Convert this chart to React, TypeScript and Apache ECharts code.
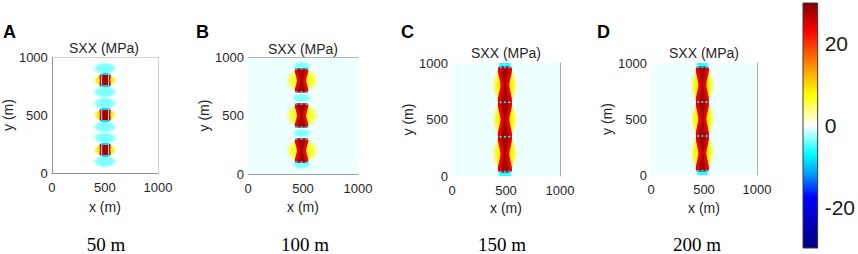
import React, { useEffect, useRef } from 'react';
import * as echarts from 'echarts';

// ---------------- data ----------------
const panelLetters = ['A', 'B', 'C', 'D'];
const panelCaptions = ['50 m', '100 m', '150 m', '200 m'];
const panelTitle = 'SXX (MPa)';
const xAxisName = 'x (m)';
const yAxisName = 'y (m)';
const axisMin = 0;
const axisMax = 1000;
const axisStep = 500;
const colorbarRange = [-30, 30];
const colorbarTicks = [-20, 0, 20];
// colormap: value -> colour
const colormapValues = [-30, -17.5, -12, -7, 0, 7.5, 14, 23, 30];
const colormapColors = ['#00007f', '#0000ff', '#0099ff', '#00ffff', '#ffffff', '#ffff00', '#ff9900', '#ff0000', '#800000'];
// background stress of each panel (MPa)
const backgroundValues = [0, -0.5, -0.5, -0.5];

// halos / soft zones: [cx, cy, rx, ry, SXX]
const halosA = [
  [500, 800, 112, 56, 9], [500, 500, 112, 56, 9], [500, 200, 112, 56, 9],
  [500, 902, 118, 54, -3.5], [500, 698, 118, 54, -3.5],
  [500, 602, 118, 54, -3.5], [500, 398, 118, 54, -3.5],
  [500, 302, 118, 54, -3.5], [500, 98, 118, 54, -3.5],
];
const halosB = [
  [492, 800, 150, 110, 6.5], [492, 500, 150, 110, 6.5], [492, 200, 150, 110, 6.5],
  [488, 918, 88, 44, -3.5], [488, 650, 88, 40, -3.5],
  [488, 350, 88, 40, -3.5], [488, 82, 88, 44, -3.5],
];
const halosC = [
  [490, 200, 118, 178, 8], [490, 500, 118, 178, 8], [490, 800, 118, 178, 8],
  [490, 988, 70, 38, -6], [490, 12, 70, 38, -6],
];
const halosD = [
  [485, 200, 115, 178, 8], [485, 500, 115, 178, 8], [485, 800, 115, 178, 8],
  [485, 988, 66, 38, -6], [485, 12, 66, 38, -6],
];

// stressed bodies (hourglass): [cx, y0, y1, widthAtEnds, widthAtMiddle, SXX]
const bodiesA = [
  [502, 752, 848, 98, 98, 24], [502, 452, 548, 98, 98, 24], [502, 152, 248, 98, 98, 24],
];
const bodiesB = [
  [487, 703, 895, 118, 84, 24], [487, 403, 597, 118, 84, 24], [487, 103, 297, 118, 84, 24],
];
const bodiesC = [
  [490, 40, 348, 125, 82, 24], [490, 348, 652, 125, 82, 24], [490, 652, 960, 125, 82, 24],
];
const bodiesD = [
  [485, 40, 348, 118, 76, 24], [485, 348, 652, 118, 76, 24], [485, 652, 960, 118, 76, 24],
];

// inner cores and fracture lines: [cx, y0, y1, widthAtEnds, widthAtMiddle, SXX]
const coresA = [
  [502, 758, 842, 46, 46, 28], [502, 458, 542, 46, 46, 28], [502, 158, 242, 46, 46, 28],
  [470, 752, 848, 8, 8, -5], [534, 752, 848, 8, 8, -5],
  [470, 452, 548, 8, 8, -5], [534, 452, 548, 8, 8, -5],
  [470, 152, 248, 8, 8, -5], [534, 152, 248, 8, 8, -5],
];
const coresB = [
  [487, 712, 886, 66, 20, 28], [487, 412, 588, 66, 20, 28], [487, 112, 288, 66, 20, 28],
];
const coresC = [
  [490, 50, 340, 66, 20, 28], [490, 356, 644, 66, 20, 28], [490, 660, 950, 66, 20, 28],
];
const coresD = [
  [485, 50, 340, 62, 18, 28], [485, 356, 644, 62, 18, 28], [485, 660, 950, 62, 18, 28],
];

// fracture tips: [cx, cy, rx, ry, SXX]
const tipsA = [
  [502, 852, 52, 12, -9], [502, 748, 52, 12, -9],
  [502, 552, 52, 12, -9], [502, 448, 52, 12, -9],
  [502, 252, 52, 12, -9], [502, 148, 52, 12, -9],
];
const tipsB = [
  [440, 898, 14, 12, -10], [487, 898, 14, 12, -10], [534, 898, 14, 12, -10],
  [440, 702, 14, 12, -10], [487, 702, 14, 12, -10], [534, 702, 14, 12, -10],
  [440, 598, 14, 12, -10], [487, 598, 14, 12, -10], [534, 598, 14, 12, -10],
  [440, 402, 14, 12, -10], [487, 402, 14, 12, -10], [534, 402, 14, 12, -10],
  [440, 298, 14, 12, -10], [487, 298, 14, 12, -10], [534, 298, 14, 12, -10],
  [440, 102, 14, 12, -10], [487, 102, 14, 12, -10], [534, 102, 14, 12, -10],
];
const tipsC = [
  [450, 962, 15, 14, -10], [490, 962, 15, 14, -10], [530, 962, 15, 14, -10],
  [450, 652, 13, 12, -8], [490, 652, 13, 12, -8], [530, 652, 13, 12, -8],
  [450, 348, 13, 12, -8], [490, 348, 13, 12, -8], [530, 348, 13, 12, -8],
  [450, 38, 15, 14, -10], [490, 38, 15, 14, -10], [530, 38, 15, 14, -10],
];
const tipsD = [
  [447, 962, 15, 14, -10], [485, 962, 15, 14, -10], [523, 962, 15, 14, -10],
  [447, 652, 13, 12, -8], [485, 652, 13, 12, -8], [523, 652, 13, 12, -8],
  [447, 348, 13, 12, -8], [485, 348, 13, 12, -8], [523, 348, 13, 12, -8],
  [447, 38, 15, 14, -10], [485, 38, 15, 14, -10], [523, 38, 15, 14, -10],
];

const panelHalos = [halosA, halosB, halosC, halosD];
const panelBodies = [bodiesA, bodiesB, bodiesC, bodiesD];
const panelCores = [coresA, coresB, coresC, coresD];
const panelTips = [tipsA, tipsB, tipsC, tipsD];

// ---------------- layout (pixels) ----------------
const SANS = '"Liberation Sans", Arial, Helvetica, sans-serif';
const SERIF = '"Liberation Serif", "Times New Roman", serif';
const TEXT = '#262626';
const layouts = [
  { left: 48, top: 57, width: 110, height: 116, title: [104, 48], letter: [3, 32], caption: [106, 244], xGap: 27, yGap: 32,
    borders: { top: '#d0d0d0', right: '#d0d0d0', left: '#8f8f8f', bottom: '#8f8f8f' } as Record<string, string> },
  { left: 248, top: 57, width: 110, height: 117, title: [303, 49], letter: [196, 32], caption: [305, 244], xGap: 26, yGap: 32,
    borders: { top: '#b5b5b5', bottom: '#9a9a9a' } as Record<string, string> },
  { left: 452, top: 63, width: 108, height: 113, title: [506, 53], letter: [401, 32], caption: [502, 244], xGap: 25, yGap: 31,
    borders: { right: '#ababab' } as Record<string, string> },
  { left: 651, top: 63, width: 106, height: 112, title: [704, 53], letter: [597, 32], caption: [697, 244], xGap: 26, yGap: 32,
    borders: { right: '#ababab' } as Record<string, string> },
];
const colorbarLayout = { left: 803, top: 3, width: 17, height: 245 };

// ---------------- helpers ----------------
function hexToRgb(h: string) {
  const n = parseInt(h.slice(1), 16);
  return [(n >> 16) & 255, (n >> 8) & 255, n & 255];
}
function valueRgb(v: number) {
  const vs = colormapValues;
  if (v <= vs[0]) return hexToRgb(colormapColors[0]);
  if (v >= vs[vs.length - 1]) return hexToRgb(colormapColors[vs.length - 1]);
  for (let i = 0; i < vs.length - 1; i++) {
    if (v >= vs[i] && v <= vs[i + 1]) {
      const t = (v - vs[i]) / (vs[i + 1] - vs[i]);
      const a = hexToRgb(colormapColors[i]);
      const b = hexToRgb(colormapColors[i + 1]);
      return [0, 1, 2].map((k) => Math.round(a[k] + (b[k] - a[k]) * t));
    }
  }
  return [255, 255, 255];
}
function valueColor(v: number, alpha = 1) {
  const c = valueRgb(v);
  return `rgba(${c[0]},${c[1]},${c[2]},${alpha})`;
}

const renderEllipse = (_params: any, api: any) => {
  const c = api.coord([api.value(0), api.value(1)]);
  const s = api.size([api.value(2), api.value(3)]);
  const v = api.value(4);
  const col = valueColor(v);
  return {
    type: 'ellipse',
    shape: { cx: c[0], cy: c[1], rx: Math.abs(s[0]), ry: Math.abs(s[1]) },
    style: {
      fill: new echarts.graphic.RadialGradient(0.5, 0.5, 0.5, [
        { offset: 0, color: col },
        { offset: 0.6, color: col },
        { offset: 1, color: valueColor(v, 0) },
      ]),
    },
  };
};

const renderHourglass = (_params: any, api: any) => {
  const cx = api.value(0);
  const y0 = api.value(1);
  const y1 = api.value(2);
  const we = api.value(3) / 2;
  const wm = api.value(4) / 2;
  const ym = (y0 + y1) / 2;
  const pts = [
    [cx - we, y0], [cx + we, y0], [cx + wm, ym], [cx + we, y1], [cx - we, y1], [cx - wm, ym],
  ].map((p) => api.coord(p));
  return {
    type: 'polygon',
    shape: { points: pts, smooth: 0.25 },
    style: { fill: valueColor(api.value(5)) },
  };
};

function buildOption() {
  const grid: any[] = [];
  const xAxis: any[] = [];
  const yAxis: any[] = [];
  const series: any[] = [];
  const graphic: any[] = [];
  const plain = (v: number) => String(v);

  layouts.forEach((L, i) => {
    grid.push({
      left: L.left, top: L.top, width: L.width, height: L.height,
      show: true, backgroundColor: valueColor(backgroundValues[i]), borderWidth: 0,
      containLabel: false,
    });
    const b = L.borders;
    xAxis.push({
      gridIndex: i, type: 'value', min: axisMin, max: axisMax, interval: axisStep, position: 'bottom',
      axisLine: { show: !!b.bottom, onZero: false, lineStyle: { color: b.bottom || '#999', width: 1 } },
      axisTick: { show: false }, splitLine: { show: false },
      axisLabel: { fontSize: 13, color: TEXT, margin: 8, fontFamily: SANS, formatter: plain },
      name: xAxisName, nameLocation: 'middle', nameGap: L.xGap,
      nameTextStyle: { fontSize: 14, color: TEXT, fontFamily: SANS },
    });
    xAxis.push({
      gridIndex: i, type: 'value', min: axisMin, max: axisMax, position: 'top', show: !!b.top,
      axisLine: { show: true, onZero: false, lineStyle: { color: b.top || '#ccc', width: 1 } },
      axisTick: { show: false }, axisLabel: { show: false }, splitLine: { show: false },
    });
    yAxis.push({
      gridIndex: i, type: 'value', min: axisMin, max: axisMax, interval: axisStep, position: 'left',
      axisLine: { show: !!b.left, onZero: false, lineStyle: { color: b.left || '#999', width: 1 } },
      axisTick: { show: false }, splitLine: { show: false },
      axisLabel: { fontSize: 13, color: TEXT, margin: 4, fontFamily: SANS, formatter: plain },
      name: yAxisName, nameLocation: 'middle', nameGap: L.yGap,
      nameTextStyle: { fontSize: 14, color: TEXT, fontFamily: SANS },
    });
    yAxis.push({
      gridIndex: i, type: 'value', min: axisMin, max: axisMax, position: 'right', show: !!b.right,
      axisLine: { show: true, onZero: false, lineStyle: { color: b.right || '#ccc', width: 1 } },
      axisTick: { show: false }, axisLabel: { show: false }, splitLine: { show: false },
    });

    const ax = { xAxisIndex: 2 * i, yAxisIndex: 2 * i, clip: true, silent: true };
    series.push({ type: 'custom', ...ax, renderItem: renderEllipse, data: panelHalos[i] });
    series.push({ type: 'custom', ...ax, renderItem: renderHourglass, data: panelBodies[i] });
    series.push({ type: 'custom', ...ax, renderItem: renderHourglass, data: panelCores[i] });
    series.push({ type: 'custom', ...ax, renderItem: renderEllipse, data: panelTips[i] });

    graphic.push({
      type: 'text', x: L.letter[0], y: L.letter[1], silent: true,
      style: { text: panelLetters[i], fontSize: 18, fontWeight: 'bold', fontFamily: SANS, fill: '#000', align: 'left', verticalAlign: 'middle' },
    });
    graphic.push({
      type: 'text', x: L.title[0], y: L.title[1], silent: true,
      style: { text: panelTitle, fontSize: 14, fontFamily: SANS, fill: TEXT, align: 'center', verticalAlign: 'middle' },
    });
    graphic.push({
      type: 'text', x: L.caption[0], y: L.caption[1], silent: true,
      style: { text: panelCaptions[i], fontSize: 19, fontFamily: SERIF, fill: '#000', align: 'center', verticalAlign: 'middle' },
    });
  });

  // colour bar
  const cbGrid = layouts.length;
  const cbAxis = 2 * layouts.length;
  grid.push({ ...colorbarLayout, show: false, containLabel: false });
  xAxis.push({ gridIndex: cbGrid, type: 'value', min: 0, max: 1, show: false });
  yAxis.push({
    gridIndex: cbGrid, type: 'value', min: colorbarRange[0], max: colorbarRange[1], interval: 10, position: 'right',
    axisLine: { show: false }, axisTick: { show: false }, splitLine: { show: false },
    axisLabel: {
      fontSize: 21, color: '#1a1a1a', margin: 7, fontFamily: SANS,
      formatter: (v: number) => (colorbarTicks.indexOf(v) >= 0 ? String(v) : ''),
    },
  });
  const span = colorbarRange[1] - colorbarRange[0];
  const stops = colormapValues
    .map((v, k) => ({ offset: (colorbarRange[1] - v) / span, color: colormapColors[k] }))
    .sort((a, b) => a.offset - b.offset);
  series.push({
    type: 'custom', xAxisIndex: cbAxis, yAxisIndex: cbAxis, silent: true,
    dimensions: ['x', 'lo', 'hi'],
    encode: { x: 0, y: [1, 2] },
    data: [[0.5, colorbarRange[0], colorbarRange[1]]],
    renderItem: (_p: any, api: any) => {
      const p0 = api.coord([0, api.value(2)]);
      const p1 = api.coord([1, api.value(1)]);
      return {
        type: 'rect',
        shape: { x: p0[0], y: p0[1], width: p1[0] - p0[0], height: p1[1] - p0[1] },
        style: {
          fill: new echarts.graphic.LinearGradient(0, 0, 0, 1, stops),
          stroke: '#3a3a3a', lineWidth: 1,
        },
      };
    },
  });

  return { animation: false, backgroundColor: '#ffffff', grid, xAxis, yAxis, series, graphic };
}

export default function App() {
  const ref = useRef<HTMLDivElement>(null);
  useEffect(() => {
    if (!ref.current) return;
    const chart = echarts.init(ref.current, undefined, { renderer: 'svg' });
    chart.setOption(buildOption() as any);
    return () => chart.dispose();
  }, []);
  return (
    <div
      ref={ref}
      style={{ position: 'fixed', left: 0, top: 0, width: 858, height: 254, background: '#fff' }}
    />
  );
}
